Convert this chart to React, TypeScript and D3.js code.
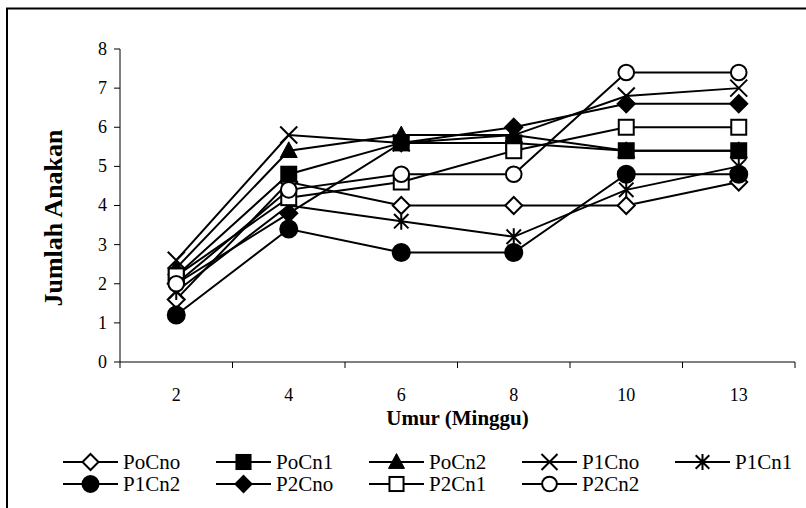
import * as d3 from "d3";

const weeks = ["2", "4", "6", "8", "10", "13"];
const yTicks = [0, 1, 2, 3, 4, 5, 6, 7, 8];

const PoCno = [1.6, 4.6, 4.0, 4.0, 4.0, 4.6];
const PoCn1 = [2.2, 4.8, 5.6, 5.6, 5.4, 5.4];
const PoCn2 = [2.4, 5.4, 5.8, 5.8, 5.4, 5.4];
const P1Cno = [2.6, 5.8, 5.6, 5.8, 6.8, 7.0];
const P1Cn1 = [1.8, 4.0, 3.6, 3.2, 4.4, 5.0];
const P1Cn2 = [1.2, 3.4, 2.8, 2.8, 4.8, 4.8];
const P2Cno = [2.0, 3.8, 5.6, 6.0, 6.6, 6.6];
const P2Cn1 = [2.2, 4.2, 4.6, 5.4, 6.0, 6.0];
const P2Cn2 = [2.0, 4.4, 4.8, 4.8, 7.4, 7.4];

type Shape = "diamondOpen" | "square" | "triangle" | "x" | "star" | "circle" | "diamond" | "squareOpen" | "circleOpen";

const series: { name: string; values: number[]; shape: Shape }[] = [
  { name: "PoCno", values: PoCno, shape: "diamondOpen" },
  { name: "PoCn1", values: PoCn1, shape: "square" },
  { name: "PoCn2", values: PoCn2, shape: "triangle" },
  { name: "P1Cno", values: P1Cno, shape: "x" },
  { name: "P1Cn1", values: P1Cn1, shape: "star" },
  { name: "P1Cn2", values: P1Cn2, shape: "circle" },
  { name: "P2Cno", values: P2Cno, shape: "diamond" },
  { name: "P2Cn1", values: P2Cn1, shape: "squareOpen" },
  { name: "P2Cn2", values: P2Cn2, shape: "circleOpen" },
];

const W = 806;
const H = 508;
const PLOT = { left: 120, right: 795, top: 49, bottom: 362 };
const FONT = "Liberation Serif";

function Marker({ shape, x, y, s }: { shape: Shape; x: number; y: number; s: number }) {
  const sw = 2;
  switch (shape) {
    case "diamondOpen":
    case "diamond":
      return (
        <path
          d={`M${x},${y - s}L${x + s},${y}L${x},${y + s}L${x - s},${y}Z`}
          fill={shape === "diamond" ? "#000" : "#fff"}
          stroke="#000"
          strokeWidth={sw}
        />
      );
    case "square":
    case "squareOpen": {
      const h = s * 0.88;
      return (
        <rect
          x={x - h}
          y={y - h}
          width={h * 2}
          height={h * 2}
          fill={shape === "square" ? "#000" : "#fff"}
          stroke="#000"
          strokeWidth={sw}
        />
      );
    }
    case "triangle":
      return (
        <path
          d={`M${x},${y - s * 1.05}L${x + s},${y + s * 0.8}L${x - s},${y + s * 0.8}Z`}
          fill="#000"
          stroke="#000"
          strokeWidth={1}
        />
      );
    case "x":
      return (
        <path
          d={`M${x - s},${y - s}L${x + s},${y + s}M${x + s},${y - s}L${x - s},${y + s}`}
          stroke="#000"
          strokeWidth={sw}
          fill="none"
        />
      );
    case "star":
      return (
        <path
          d={`M${x - s * 0.85},${y - s * 0.85}L${x + s * 0.85},${y + s * 0.85}M${x + s * 0.85},${y - s * 0.85}L${x - s * 0.85},${y + s * 0.85}M${x},${y - s}L${x},${y + s}`}
          stroke="#000"
          strokeWidth={sw}
          fill="none"
        />
      );
    case "circle":
    case "circleOpen":
      return (
        <circle
          cx={x}
          cy={y}
          r={shape === "circle" ? s : s * 0.92}
          fill={shape === "circle" ? "#000" : "#fff"}
          stroke="#000"
          strokeWidth={sw}
        />
      );
  }
}

export default function App() {
  const x = d3.scaleBand<string>().domain(weeks).range([PLOT.left, PLOT.right]);
  const y = d3.scaleLinear().domain([0, 8]).range([PLOT.bottom, PLOT.top]);
  const cx = (w: string) => (x(w) ?? 0) + x.bandwidth() / 2;

  const line = d3
    .line<number>()
    .x((_, i) => cx(weeks[i]))
    .y((d) => y(d));

  const boundaries = [...weeks.map((w) => x(w) ?? 0), PLOT.right];

  const legendX0 = 63;
  const legendStep = 153;
  const legendRows = [462, 484];

  return (
    <svg width={W} height={H} style={{ position: "absolute", left: 0, top: 0, background: "#fff" }}>
      {/* frame, cut off at right and bottom */}
      <path d={`M7,${H}L7,8.5L${W},8.5`} fill="none" stroke="#000" strokeWidth={2} />

      {/* y axis */}
      <line x1={PLOT.left} x2={PLOT.left} y1={PLOT.top} y2={PLOT.bottom} stroke="#000" strokeWidth={1} />
      {yTicks.map((t) => (
        <g key={t}>
          <line x1={PLOT.left - 6} x2={PLOT.left} y1={y(t)} y2={y(t)} stroke="#000" strokeWidth={1} />
          <text x={PLOT.left - 13} y={y(t)} dy="0.33em" textAnchor="end" fontSize={18} fontFamily={FONT}>
            {t}
          </text>
        </g>
      ))}
      <text
        transform={`translate(53,218) rotate(-90)`}
        textAnchor="middle"
        fontSize={26}
        fontWeight="bold"
        fontFamily={FONT}
        dy="0.35em"
      >
        Jumlah Anakan
      </text>

      {/* x axis */}
      <line x1={PLOT.left} x2={PLOT.right} y1={PLOT.bottom} y2={PLOT.bottom} stroke="#000" strokeWidth={1} />
      {boundaries.map((b, i) => (
        <line key={i} x1={b} x2={b} y1={PLOT.bottom} y2={PLOT.bottom + 6} stroke="#000" strokeWidth={1} />
      ))}
      {weeks.map((w) => (
        <text key={w} x={cx(w)} y={395} dy="0.35em" textAnchor="middle" fontSize={18} fontFamily={FONT}>
          {w}
        </text>
      ))}
      <text
        x={(PLOT.left + PLOT.right) / 2}
        y={418}
        dy="0.35em"
        textAnchor="middle"
        fontSize={21}
        fontWeight="bold"
        fontFamily={FONT}
      >
        Umur (Minggu)
      </text>

      {/* series */}
      {series.map((s) => (
        <g key={s.name}>
          <path d={line(s.values) ?? ""} fill="none" stroke="#000" strokeWidth={2} />
          {s.values.map((v, i) => (
            <Marker key={i} shape={s.shape} x={cx(weeks[i])} y={y(v)} s={8.5} />
          ))}
        </g>
      ))}

      {/* legend */}
      {series.map((s, i) => {
        const col = i < 5 ? i : i - 5;
        const row = i < 5 ? 0 : 1;
        const lx = legendX0 + col * legendStep;
        const ly = legendRows[row];
        return (
          <g key={s.name}>
            <line x1={lx} x2={lx + 55} y1={ly} y2={ly} stroke="#000" strokeWidth={2} />
            <Marker shape={s.shape} x={lx + 27.5} y={ly} s={8} />
            <text x={lx + 60} y={ly} dy="0.35em" fontSize={21} fontFamily={FONT}>
              {s.name}
            </text>
          </g>
        );
      })}
    </svg>
  );
}
